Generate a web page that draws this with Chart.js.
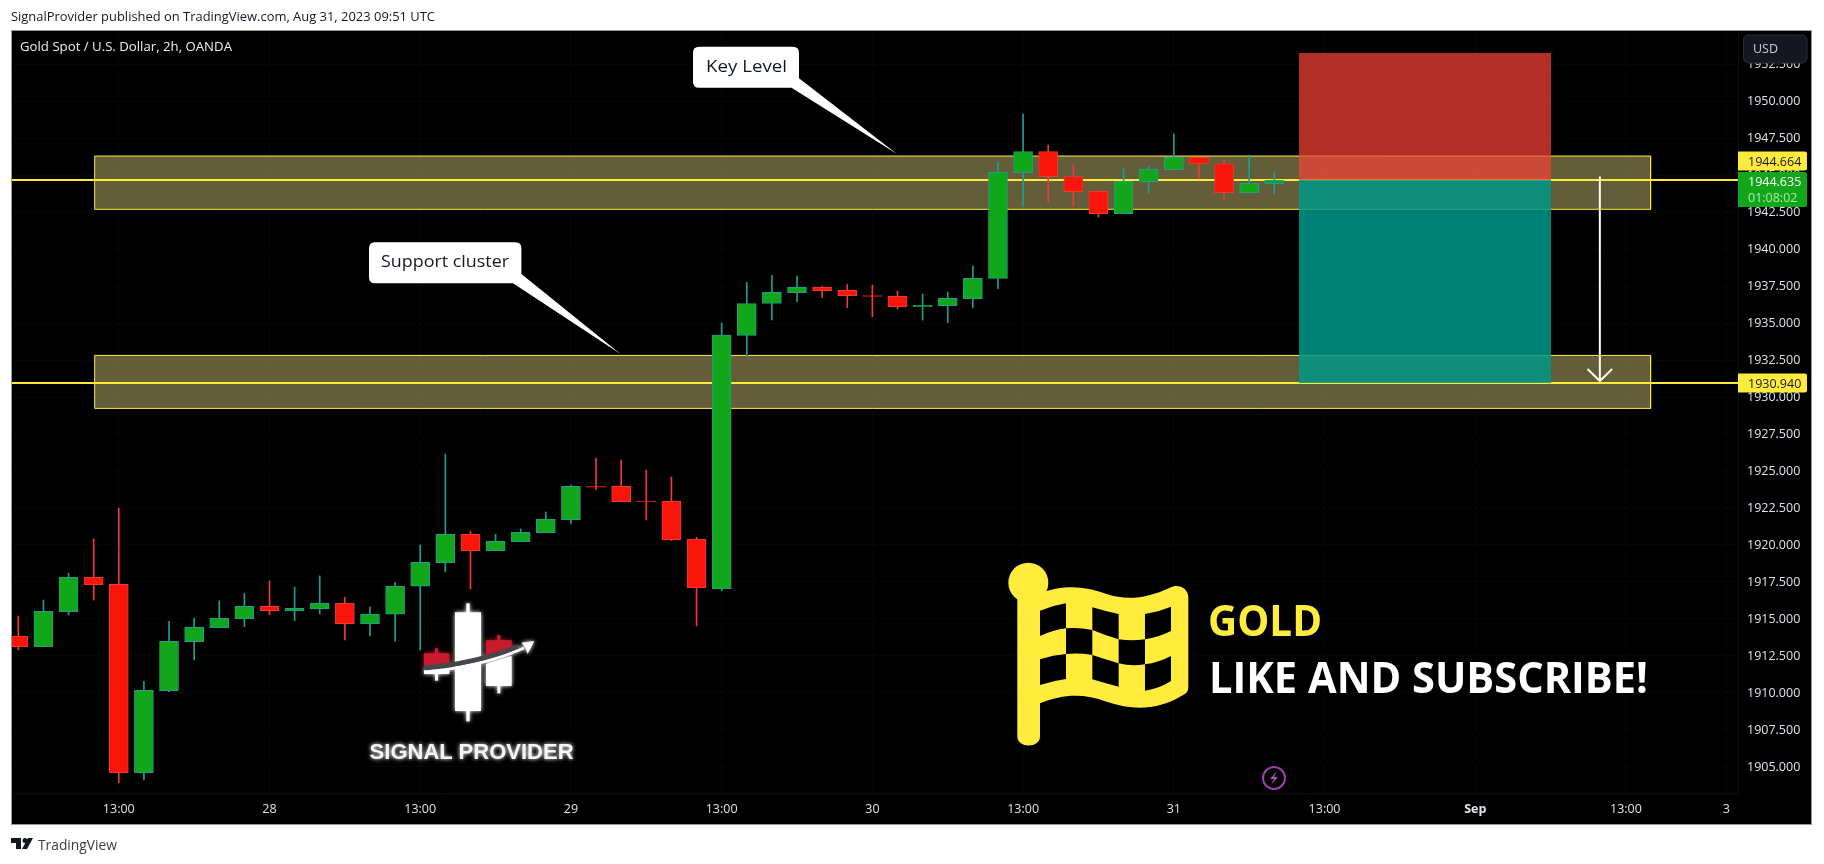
<!DOCTYPE html>
<html><head><meta charset="utf-8"><title>Gold Spot / U.S. Dollar</title>
<script src="https://cdn.jsdelivr.net/npm/chart.js@4"></script>
<style>
html,body{margin:0;padding:0;background:#fff;width:1824px;height:864px;overflow:hidden}
#frame{position:absolute;left:11px;top:30px;width:1799px;height:793px;border:1px solid #9598a1;background:#000}
canvas{display:block}
#over{position:absolute;left:0;top:0;pointer-events:none}
</style></head><body>
<div id="frame"><canvas id="c" width="1799" height="793"></canvas></div>
<svg id="over" width="1824" height="864" xmlns="http://www.w3.org/2000/svg" font-family="'Open Sans',sans-serif">
  <defs>
    <filter id="glow" x="-20%" y="-20%" width="140%" height="140%"><feGaussianBlur stdDeviation="2" result="b"/><feMerge><feMergeNode in="b"/><feMergeNode in="SourceGraphic"/></feMerge></filter>
    <filter id="glow2" x="-20%" y="-20%" width="140%" height="140%"><feGaussianBlur stdDeviation="6" result="b"/><feMerge><feMergeNode in="b"/><feMergeNode in="SourceGraphic"/></feMerge></filter>
  </defs>
  <text x="11" y="21" font-size="12.5" fill="#131722" textLength="424" lengthAdjust="spacingAndGlyphs">SignalProvider published on TradingView.com, Aug 31, 2023 09:51 UTC</text>
  <text x="20" y="51" font-size="12.5" font-weight="500" fill="#eef0f4" textLength="212" lengthAdjust="spacingAndGlyphs">Gold Spot / U.S. Dollar, 2h, OANDA</text>
  <!-- USD -->
  <rect x="1743.5" y="35" width="63.5" height="28" rx="5" fill="#131722" stroke="#2a2e39"/>
  <text x="1753" y="53" font-size="12.5" fill="#c9cbd2">USD</text>
  <!-- callouts -->
  <path d="M699 46.7H793Q799 46.7 799 52.7V78.3L897 154L791.5 87.7H699Q693 87.7 693 81.7V52.7Q693 46.7 699 46.7Z" fill="#fff"/>
  <text x="706" y="71.5" font-size="15.5" font-weight="500" fill="#131722" textLength="81" lengthAdjust="spacingAndGlyphs">Key Level</text>
  <path d="M375 242.3H515.4Q521.4 242.3 521.4 248.3V274L620.5 354L513 283.3H375Q369 283.3 369 277.3V248.3Q369 242.3 375 242.3Z" fill="#fff"/>
  <text x="381" y="267" font-size="15.5" font-weight="500" fill="#131722" textLength="128" lengthAdjust="spacingAndGlyphs">Support cluster</text>
  <!-- candlestick logo -->
  <g transform="translate(400,580) scale(0.3333)" filter="url(#glow2)">
    <rect x="199" y="70" width="10" height="354" fill="#fff"/>
    <rect x="165" y="97" width="78" height="296" fill="#fff"/>
    <rect x="105" y="205" width="9" height="20" fill="#c81e2d"/>
    <rect x="72" y="220" width="76" height="36" fill="#c81e2d"/>
    <rect x="72" y="268" width="76" height="14" fill="#fff"/>
    <rect x="105" y="280" width="9" height="22" fill="#fff"/>
    <rect x="292" y="165" width="9" height="18" fill="#c81e2d"/>
    <path d="M258 181H335V208L258 228Z" fill="#c81e2d"/>
    <path d="M258 252L335 228V318H258Z" fill="#fff"/>
    <rect x="292" y="316" width="9" height="24" fill="#fff"/>
    <path d="M72 264Q230 250 355 200" fill="none" stroke="#44464c" stroke-width="15"/>
    <path d="M72 276Q240 262 372 204" fill="none" stroke="#fff" stroke-width="8"/>
    <path d="M365 188L403 183L383 222L376 204Z" fill="#fff"/>
  </g>
  <text x="369.6" y="758.5" font-family="'Liberation Sans',sans-serif" font-weight="700" font-size="22" fill="#f4f4f4" textLength="204" lengthAdjust="spacingAndGlyphs" filter="url(#glow)">SIGNAL PROVIDER</text>
  <!-- flag -->
  <g transform="translate(960,540) scale(0.3333)">
    <circle cx="205" cy="128" r="60" fill="#ffec3d"/>
    <path d="M172 150H240V160C330 125 400 148 440 162C500 182 560 175 630 143C655 130 685 145 685 172V440C685 455 680 460 660 470C590 510 520 512 440 485C370 460 310 462 240 490V590C240 625 172 625 172 590Z" fill="#ffec3d"/>
    <g fill="#000">
      <path d="M240 212Q280 196 318 190V265Q280 270 240 288Z"/>
      <path d="M397 202Q436 214 476 222V298Q436 286 397 270Z"/>
      <path d="M555 222Q595 216 633 200V273Q595 292 555 298Z"/>
      <path d="M318 265Q358 262 397 270V345Q358 338 318 342Z"/>
      <path d="M476 298Q515 304 555 298V373Q515 380 476 370Z"/>
      <path d="M240 358Q280 345 318 342V417Q280 422 240 435Z"/>
      <path d="M397 345Q436 358 476 370V440Q436 430 397 418Z"/>
      <path d="M555 373Q595 368 633 348V423Q595 447 555 452Z"/>
    </g>
  </g>
  <text x="1208" y="636" font-size="43" font-weight="700" fill="#ffec3d" textLength="114" lengthAdjust="spacingAndGlyphs">GOLD</text>
  <text x="1209" y="693" font-size="43" font-weight="700" fill="#fff" textLength="439" lengthAdjust="spacingAndGlyphs">LIKE AND SUBSCRIBE!</text>
  <!-- lightning -->
  <circle cx="1274" cy="778" r="11" fill="none" stroke="#9c3fb0" stroke-width="2"/>
  <path d="M1277 771L1270 779H1274L1271 785L1278 777H1274Z" fill="#a94fc0"/>
  <!-- footer -->
  <path d="M11 838H21V849H16V843H11Z" fill="#131722"/><circle cx="25" cy="840.5" r="2.5" fill="#131722"/><path d="M28 838H33L27 849H22Z" fill="#131722"/>
  <text x="38" y="850" font-size="14" fill="#3a3d46" textLength="79" lengthAdjust="spacingAndGlyphs">TradingView</text>
</svg>
<script>
// OHLC, one entry per 2h candle
const opens  = [1913.85,1913.13,1915.50,1917.82,1917.34,1904.62,1910.16,1913.47,1914.41,1915.02,1915.86,1915.56,1915.70,1916.06,1914.68,1915.32,1917.21,1918.81,1920.72,1919.62,1920.23,1920.84,1921.71,1923.96,1923.96,1922.97,1922.95,1920.38,1917.05,1934.16,1936.32,1937.05,1937.41,1937.20,1936.86,1936.80,1936.10,1936.17,1936.64,1938.01,1945.16,1946.59,1944.90,1943.89,1942.38,1944.55,1945.36,1946.19,1945.76,1943.80,1944.41];
const closes = [1913.13,1915.52,1917.82,1917.32,1904.62,1910.18,1913.49,1914.44,1915.04,1915.86,1915.56,1915.72,1916.06,1914.68,1915.32,1917.21,1918.83,1920.72,1919.62,1920.25,1920.86,1921.73,1923.96,1923.90,1922.93,1922.93,1920.36,1917.12,1934.18,1936.32,1937.07,1937.41,1937.18,1936.84,1936.80,1936.10,1936.19,1936.66,1938.01,1945.18,1946.59,1944.88,1943.87,1942.38,1944.57,1945.38,1946.19,1945.76,1943.80,1944.43,1944.635];
const highs  = [1915.20,1916.28,1918.09,1920.41,1922.50,1910.79,1914.84,1915.04,1916.22,1916.73,1917.57,1917.16,1917.91,1916.46,1915.81,1917.48,1920.00,1926.15,1920.92,1920.72,1921.08,1922.23,1924.05,1925.88,1925.74,1925.07,1924.59,1920.52,1935.00,1937.74,1938.22,1938.17,1937.50,1937.61,1937.56,1937.16,1936.96,1937.09,1938.85,1945.87,1949.12,1947.02,1945.67,1943.98,1945.47,1945.60,1947.77,1946.19,1946.01,1946.35,1945.20];
const lows   = [1912.91,1913.13,1915.27,1916.28,1903.94,1904.12,1910.09,1912.23,1914.41,1914.48,1915.29,1914.89,1915.34,1913.58,1913.85,1913.51,1912.91,1918.18,1917.03,1919.62,1920.23,1920.84,1921.44,1923.74,1922.93,1921.69,1920.29,1914.53,1916.90,1932.72,1935.20,1936.44,1936.71,1936.03,1935.42,1935.94,1935.20,1935.02,1936.03,1937.32,1942.86,1943.17,1942.90,1942.16,1942.38,1943.78,1945.36,1944.73,1943.31,1943.80,1943.71];

const timeTickSlots  = [4,10,16,22,28,34,40,46,52,58,64,68];
const timeTickLabels = ['13:00','28','13:00','29','13:00','30','13:00','31','13:00','Sep','13:00','3'];
const priceTicks = [1905,1907.5,1910,1912.5,1915,1917.5,1920,1922.5,1925,1927.5,1930,1932.5,1935,1937.5,1940,1942.5,1945,1947.5,1950,1952.5];

const keyLevelBand = [1942.68,1946.28];
const supportBand  = [1929.23,1932.81];
const bandSlots    = [3.04,64.98];
const levelPrices  = [1944.664,1930.94];
const positionSlots = [50.98,61.02];
const stopPrice = 1953.24;
const moveArrowSlot = 62.96;
const moveArrowPrices = [1944.9,1931.08];
const lastPrice = 1944.635;
const countdown = '01:08:02';

const UP='#12a71b', UPB='#1f9e8f', DN='#f8150a', DNB='#f23a30';
const idx = opens.map((_,i)=>i);
const isUp = i => closes[i]>=opens[i];

const slotMin=-0.251, slotMax=68.46, priceMin=1903.243, priceMax=1954.73;

function noPadding(s){s.paddingLeft=0;s.paddingRight=0;s.paddingTop=0;s.paddingBottom=0;}
function boxFill(label,slots,lo,hi,color,order){
  return {type:'line',label,data:[{x:slots[0],y:hi},{x:slots[1],y:hi}],borderWidth:0,pointRadius:0,
    backgroundColor:color,fill:{target:{value:lo}},order};
}
function polyline(label,pts,color,width,order){
  return {type:'line',label,data:pts,borderColor:color,borderWidth:width,pointRadius:0,fill:false,order,tension:0};
}
function rectOutline(label,slots,lo,hi,color,order){
  return polyline(label,[{x:slots[0],y:lo},{x:slots[0],y:hi},{x:slots[1],y:hi},{x:slots[1],y:lo},{x:slots[0],y:lo}],color,1,order);
}
const bandFill='rgba(255,240,150,0.39)', bandLine='#ffeb3b';

const datasets=[
  boxFill('Key level zone',bandSlots,keyLevelBand[0],keyLevelBand[1],bandFill,60),
  rectOutline('Key level edge',bandSlots,keyLevelBand[0],keyLevelBand[1],bandLine,59),
  boxFill('Support zone',bandSlots,supportBand[0],supportBand[1],bandFill,60),
  rectOutline('Support edge',bandSlots,supportBand[0],supportBand[1],bandLine,59),
  polyline('Level 1',[{x:slotMin,y:levelPrices[0]},{x:slotMax,y:levelPrices[0]}],'#ffeb3b',2,58),
  polyline('Level 2',[{x:slotMin,y:levelPrices[1]},{x:slotMax,y:levelPrices[1]}],'#ffeb3b',2,58),
  boxFill('Stop',positionSlots,levelPrices[0],stopPrice,'rgba(244,67,54,0.72)',50),
  boxFill('Target',positionSlots,levelPrices[1],levelPrices[0],'rgba(0,150,136,0.85)',50),
  {type:'bar',label:'Wicks',grouped:false,order:30,barThickness:1,borderSkipped:false,borderWidth:0,
    data:idx.map(i=>({x:i,y:[lows[i],highs[i]]})),
    backgroundColor:idx.map(i=>isUp(i)?UPB:DNB)},
  {type:'bar',label:'Bodies',grouped:false,order:29,barThickness:19,borderSkipped:false,borderWidth:1,
    data:idx.map(i=>({x:i,y:[opens[i],closes[i]]})),
    backgroundColor:idx.map(i=>isUp(i)?UP:DN),
    borderColor:idx.map(i=>isUp(i)?UPB:DNB)},
  polyline('Move arrow',[{x:moveArrowSlot,y:moveArrowPrices[0]},{x:moveArrowSlot,y:moveArrowPrices[1]}],'#fffdf0',2,5),
  polyline('Move arrow head',[{x:moveArrowSlot-0.49,y:moveArrowPrices[1]+0.81},{x:moveArrowSlot,y:moveArrowPrices[1]},{x:moveArrowSlot+0.49,y:moveArrowPrices[1]+0.81}],'#fffdf0',2,5)
];

const tagPlugin={id:'priceTags',afterDraw(ch){
  const c=ch.ctx, y=ch.scales.y, L=ch.chartArea.right, W=69;
  const tag=(cy,h,fill)=>{c.fillStyle=fill;c.beginPath();c.roundRect(L,cy-h/2,W,h,[0,2,2,0]);c.fill();};
  c.save();c.textBaseline='middle';c.textAlign='left';c.font='500 12.5px "Open Sans",sans-serif';
  const Ya=y.getPixelForValue(levelPrices[0]), Yb=y.getPixelForValue(levelPrices[1]), Yl=y.getPixelForValue(lastPrice);
  tag(Ya-19,19,'#ffeb3b');c.fillStyle='#131722';c.fillText(levelPrices[0].toFixed(3),L+10,Ya-18);
  tag(Yl+9,35,UP);c.fillStyle='#fff';c.fillText(lastPrice.toFixed(3),L+10,Yl+2);
  c.fillStyle='#a6e8aa';c.fillText(countdown,L+10,Yl+18);
  tag(Yb,19,'#ffeb3b');c.fillStyle='#131722';c.fillText(levelPrices[1].toFixed(3),L+10,Yb+1);
  c.restore();
}};

new Chart(document.getElementById('c'),{
  type:'bar',
  data:{datasets},
  plugins:[tagPlugin],
  options:{
    responsive:false,animation:false,devicePixelRatio:1,
    layout:{padding:0,autoPadding:false},
    plugins:{legend:{display:false},tooltip:{enabled:false}},
    scales:{
      x:{type:'linear',bounds:'data',min:slotMin,max:slotMax,offset:false,
        afterBuildTicks(s){s.ticks=timeTickSlots.map(v=>({value:v}));},
        afterFit(s){s.height=31;noPadding(s);},
        grid:{color:'#060606',drawTicks:false,offset:false},
        border:{color:'#0e0e0e'},
        ticks:{autoSkip:false,maxRotation:0,minRotation:0,padding:9,color:'#e0e3eb',
          font:c=>({family:'"Open Sans",sans-serif',size:12.5,weight:timeTickLabels[c.index]==='Sep'?'700':'500'}),
          callback:(v,i)=>timeTickLabels[i]}},
      y:{position:'right',bounds:'data',min:priceMin,max:priceMax,
        afterBuildTicks(s){s.ticks=priceTicks.map(v=>({value:v}));},
        afterFit(s){s.width=73;noPadding(s);},
        grid:{color:'#060606',drawTicks:false},
        border:{color:'#0e0e0e'},
        ticks:{autoSkip:false,padding:9,color:'#e0e3eb',font:{family:'"Open Sans",sans-serif',size:12.5,weight:'500'},
          callback:v=>v.toFixed(3)}}
    }
  }
});
</script>
</body></html>
